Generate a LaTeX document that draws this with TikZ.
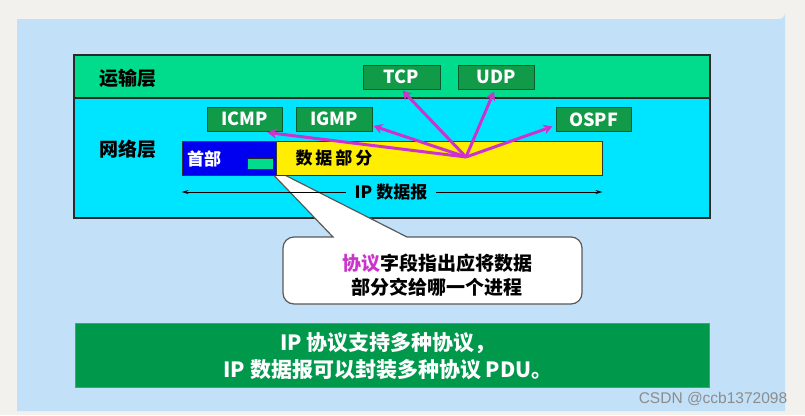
\documentclass[tikz,border=0pt]{standalone}
\usepackage{fontspec}
\setmainfont{Noto Sans CJK SC}
\newfontfamily\wmfont{Liberation Sans}
\usetikzlibrary{arrows.meta,calc}
\definecolor{pagegray}{HTML}{F2F1EE}
\definecolor{bgblue}{HTML}{C2E1F8}
\definecolor{transgreen}{HTML}{00DB8C}
\definecolor{netcyan}{HTML}{00E5FF}
\definecolor{protogreen}{HTML}{119A48}
\definecolor{protoedge}{HTML}{0B5A30}
\definecolor{hdrblue}{HTML}{0000F0}
\definecolor{datayellow}{HTML}{FFEE00}
\definecolor{pmagenta}{HTML}{CC33CC}
\definecolor{notegreen}{HTML}{00994C}
\definecolor{framegray}{HTML}{2A2A2A}
\tikzset{
  protobox/.style={draw=protoedge, line width=1pt, fill=protogreen, text=white,
    font=\fontsize{18}{20}\selectfont\bfseries, inner sep=0pt,
    minimum height=24pt},
  layerlabel/.style={font=\fontsize{19}{22}\selectfont\bfseries, text=black, inner sep=0pt},
  parrow/.style={draw=pmagenta, line width=3pt, -{Stealth[length=9pt,width=10pt]}},
  iparrow/.style={draw=black, line width=0.9pt, -{Stealth[length=7pt,width=4pt]}},
}
\begin{document}
\begin{tikzpicture}[x=1pt,y=-1pt]
  % page background
  \fill[pagegray] (0,0) rectangle (805,415);
  \useasboundingbox (0,0) rectangle (805,415);
  \fill[bgblue] (17,19) -- (779,19) arc[start angle=90,end angle=0,radius=6] -- (785,411) -- (17,411) -- cycle;

  % layer bands
  \fill[transgreen] (74,55) rectangle (710,98);
  \fill[netcyan] (74,98) rectangle (710,218);
  \draw[framegray, line width=1.6pt] (74,98) -- (710,98);
  \draw[framegray, line width=2.6pt] (74,55) rectangle (710,218);

  \node[layerlabel] (trans) at (128,78) {运输层};
  \node[layerlabel] (net) at (128,149) {网络层};

  % callout (beneath datagram)
  \coordinate (tip) at (263,164);
  \filldraw[fill=white, draw=black!65, line width=1.2pt]
    (tip) -- (333,237) [rounded corners=11pt] -- (283,237) -- (283,304) -- (582,304) -- (582,237) [sharp corners] -- (407,237) -- cycle;
  \node[align=center, font=\fontsize{19}{24}\selectfont\bfseries, inner sep=0pt] (note) at (437,275)
    {\textcolor{pmagenta}{协议}字段指出应将数据\\部分交给哪一个进程};

  % datagram
  \node[draw=black!80, line width=0.8pt, fill=hdrblue, minimum width=94pt, minimum height=34pt, inner sep=0pt] (hdr) at (229,158) {};
  \node[draw=black!80, line width=0.8pt, fill=datayellow, minimum width=326pt, minimum height=34pt, inner sep=0pt] (data) at (439,158) {};
  \node[font=\fontsize{17}{20}\selectfont\bfseries, text=white, inner sep=0pt] (hdrtext) at (204,159) {首部};
  \node[font=\fontsize{17}{20}\selectfont\bfseries, text=black, inner sep=0pt] (datatext) at (334,158) {数\hspace{3pt}据\hspace{3pt}部\hspace{3pt}分};
  \node[draw=black!85, line width=0.8pt, fill=transgreen, minimum width=26pt, minimum height=11pt, inner sep=0pt] (pfield) at (260,164) {};

  % IP datagram span
  \node[font=\fontsize{17}{20}\selectfont\bfseries, inner sep=9pt] (ipd) at (391,192) {IP 数据报};
  \draw[iparrow] (ipd.west) -- (hdr.west |- ipd.center);
  \draw[iparrow] (ipd.east) -- (data.east |- ipd.center);

  % protocol boxes
  \node[protobox, minimum width=77pt] (tcp) at (401.5,77) {TCP};
  \node[protobox, minimum width=76pt] (udp) at (496,77) {UDP};
  \node[protobox, minimum width=75pt] (icmp) at (244.5,119) {ICMP};
  \node[protobox, minimum width=76pt] (igmp) at (334,119) {IGMP};
  \node[protobox, minimum width=75pt] (ospf) at (593.5,119.5) {OSPF};

  % demux arrows
  \coordinate (hub) at (466,157);
  \draw[parrow] (hub) -- ($(tcp.south)+(1,1)$);
  \draw[parrow] (hub) -- ($(udp.south)+(-2,2)$);
  \draw[parrow] (hub) -- ($(icmp.south east)+(-15,1)$);
  \draw[parrow] (hub) -- ($(igmp.east)+(1,7)$);
  \draw[parrow] (hub) -- ($(ospf.west)+(-3,7)$);

  % bottom note
  \node[draw=notegreen!80!white, line width=0.6pt, fill=notegreen, minimum width=634pt, minimum height=64pt, inner sep=0pt] (summary) at (392,355) {};
  \node[align=center, text=white, font=\fontsize{21}{27}\selectfont\bfseries, inner sep=0pt] (summarytext) at (388,356)
    {IP 协议支持多种协议，\\IP 数据报可以封装多种协议 PDU。};

  % watermark
  \node[text=black!45, font=\wmfont\fontsize{15.5}{18}\selectfont, inner sep=0pt] (wm) at (713,399) {CSDN @ccb1372098};
\end{tikzpicture}
\end{document}
